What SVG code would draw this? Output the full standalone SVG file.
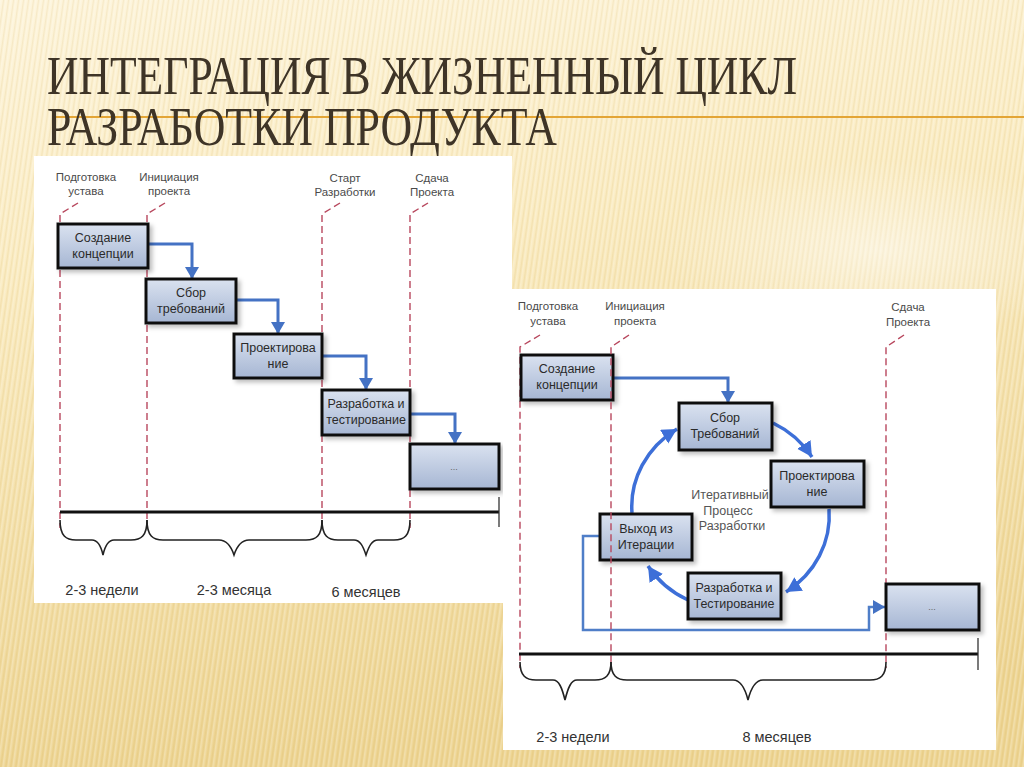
<svg xmlns="http://www.w3.org/2000/svg" width="1024" height="767" viewBox="0 0 1024 767">
<defs>
  <linearGradient id="bg" x1="0" y1="0" x2="0.15" y2="1">
    <stop offset="0" stop-color="#FDF4DA"/>
    <stop offset="0.35" stop-color="#FAEBC0"/>
    <stop offset="1" stop-color="#EDD491"/>
  </linearGradient>
  <radialGradient id="glow" cx="0.5" cy="0.5" r="0.5">
    <stop offset="0" stop-color="#FFFFFF" stop-opacity="0.5"/>
    <stop offset="1" stop-color="#FFFFFF" stop-opacity="0"/>
  </radialGradient>
  <pattern id="stripes" width="5" height="10" patternUnits="userSpaceOnUse" patternTransform="skewX(-8)">
    <rect x="0" y="0" width="1.6" height="10" fill="#FFFFFF" opacity="0.25"/>
    <rect x="3" y="0" width="1.2" height="10" fill="#C9A24E" opacity="0.12"/>
  </pattern>
  <linearGradient id="boxg" x1="0" y1="0" x2="0" y2="1">
    <stop offset="0" stop-color="#DAE2F0"/>
    <stop offset="1" stop-color="#A6B6D3"/>
  </linearGradient>
  <filter id="sh" x="-10%" y="-10%" width="130%" height="140%">
    <feDropShadow dx="3" dy="3" stdDeviation="2" flood-color="#000" flood-opacity="0.25"/>
  </filter>
  <marker id="ah" markerUnits="userSpaceOnUse" markerWidth="14" markerHeight="14" refX="12" refY="7" orient="auto">
    <path d="M0,0 L12,7 L0,14 z" fill="#4472C4"/>
  </marker>
  <marker id="ahc" markerUnits="userSpaceOnUse" markerWidth="18" markerHeight="18" refX="15" refY="8" orient="auto">
    <path d="M0,0 L15,8 L0,16 z" fill="#3D6FD8"/>
  </marker>
  <style>
    .title{font-family:"Liberation Serif","DejaVu Serif",serif;font-size:54px;fill:#3E3427}
    .lbl{font-family:"Liberation Sans",Arial,sans-serif;font-size:11.5px;fill:#4a4a4a;text-anchor:middle}
    .bt{font-family:"Liberation Sans",Arial,sans-serif;font-size:12.5px;fill:#2a2a2a;text-anchor:middle}
    .dur{font-family:"Liberation Sans",Arial,sans-serif;font-size:14.5px;fill:#333;text-anchor:middle}
    .mid{font-family:"Liberation Sans",Arial,sans-serif;font-size:12.5px;fill:#555;text-anchor:middle}
    .box{fill:url(#boxg);stroke:#111;stroke-width:3;filter:url(#sh)}
    .guide{fill:none;stroke:#B8485E;stroke-width:1.4;stroke-dasharray:7,4}
    .tl{fill:none;stroke:#111;stroke-width:3}
    .tick{fill:none;stroke:#333;stroke-width:1.3}
    .brace{fill:none;stroke:#222;stroke-width:1.6}
    .arr{fill:none;stroke:#4472C4;stroke-width:3;marker-end:url(#ah)}
    .carr{fill:none;stroke:#3D6FD8;stroke-width:3.5;marker-end:url(#ahc)}
    .exit{fill:none;stroke:#4F7EC8;stroke-width:2.5;marker-end:url(#ah)}
  </style>
</defs>

<!-- background -->
<rect x="0" y="0" width="1024" height="767" fill="url(#bg)"/>
<rect x="0" y="0" width="1024" height="767" fill="url(#stripes)"/>
<ellipse cx="880" cy="250" rx="220" ry="90" fill="url(#glow)"/>
<line x1="52" y1="117" x2="1024" y2="117" stroke="#E3A536" stroke-width="2.2"/>

<!-- title -->
<g id="title">
  <text class="title" x="47" y="94" textLength="750" lengthAdjust="spacingAndGlyphs">ИНТЕГРАЦИЯ В ЖИЗНЕННЫЙ ЦИКЛ</text>
  <text class="title" x="47" y="145" textLength="510" lengthAdjust="spacingAndGlyphs">РАЗРАБОТКИ ПРОДУКТА</text>
</g>

<!-- ================= LEFT PANEL (waterfall) ================= -->
<g id="left-panel">
  <rect x="34" y="156" width="478" height="447" fill="#FFFFFF"/>
</g>

<g id="left-milestones">
  <text class="lbl" x="86" y="181">Подготовка</text>
  <text class="lbl" x="86" y="195">устава</text>
  <text class="lbl" x="169" y="181">Инициация</text>
  <text class="lbl" x="169" y="195">проекта</text>
  <text class="lbl" x="345" y="182">Старт</text>
  <text class="lbl" x="345" y="196">Разработки</text>
  <text class="lbl" x="432" y="182">Сдача</text>
  <text class="lbl" x="432" y="196">Проекта</text>
  <path class="guide" d="M78,203 L60,214 V528"/>
  <path class="guide" d="M165,203 L147,214 V528"/>
  <path class="guide" d="M340,203 L322,214 V528"/>
  <path class="guide" d="M428,203 L410,214 V528"/>
</g>

<g id="left-connectors">
  <path class="arr" d="M148,244 H192 V279"/>
  <path class="arr" d="M236,300 H278 V334"/>
  <path class="arr" d="M322,356 H366 V390"/>
  <path class="arr" d="M410,414 H455 V444"/>
</g>

<g id="L1">
  <rect class="box" x="58" y="224" width="90" height="44"/>
  <text class="bt" x="103" y="242">Создание</text>
  <text class="bt" x="103" y="258">концепции</text>
</g>
<g id="L2">
  <rect class="box" x="146" y="279" width="90" height="44"/>
  <text class="bt" x="191" y="297">Сбор</text>
  <text class="bt" x="191" y="313">требований</text>
</g>
<g id="L3">
  <rect class="box" x="234" y="334" width="88" height="44"/>
  <text class="bt" x="278" y="352">Проектирова</text>
  <text class="bt" x="278" y="368">ние</text>
</g>
<g id="L4">
  <rect class="box" x="322" y="390" width="88" height="45"/>
  <text class="bt" x="366" y="408">Разработка и</text>
  <text class="bt" x="366" y="424">тестирование</text>
</g>
<g id="L5">
  <rect class="box" x="410" y="444" width="89" height="45"/>
  <text class="bt" x="454" y="470" style="font-size:9px;fill:#666">...</text>
</g>

<g id="left-timeline">
  <line class="tl" x1="60" y1="512" x2="499" y2="512"/>
  <line class="tick" x1="499" y1="497" x2="499" y2="527"/>
  <path class="brace" d="M60,520 C60,536 66,540 76,540 H92 C98,540 101,546 103,555 C105,546 108,540 114,540 H131 C141,540 147,536 147,520"/>
  <path class="brace" d="M147,520 C147,536 153,540 163,540 H219 C226,540 231,546 234,555 C237,546 242,540 249,540 H306 C316,540 322,536 322,520"/>
  <path class="brace" d="M322,520 C322,536 328,540 338,540 H354 C360,540 363,546 366,555 C369,546 372,540 378,540 H394 C404,540 410,536 410,520"/>
  <text class="dur" x="102" y="595">2-3 недели</text>
  <text class="dur" x="234" y="595">2-3 месяца</text>
  <text class="dur" x="366" y="597">6 месяцев</text>
</g>

<!-- ================= RIGHT PANEL (iterative) ================= -->
<g id="right-panel">
  <rect x="503" y="289" width="493" height="461" fill="#FFFFFF"/>
</g>

<g id="right-milestones">
  <text class="lbl" x="548" y="310">Подготовка</text>
  <text class="lbl" x="548" y="325">устава</text>
  <text class="lbl" x="635" y="310">Инициация</text>
  <text class="lbl" x="635" y="325">проекта</text>
  <text class="lbl" x="908" y="311">Сдача</text>
  <text class="lbl" x="908" y="326">Проекта</text>
  <path class="guide" d="M540,335 L520,347 V668"/>
  <path class="guide" d="M904,335 L886,347 V668"/>
</g>

<g id="right-connectors">
  <path class="arr" d="M613,378 H728 V403"/>
  <path class="exit" d="M600,536 H583 V630 H869 V607 H885"/>
  <path class="carr" d="M773,423 A98,92 0 0 1 812,457"/>
  <path class="carr" d="M829,509 A98,92 0 0 1 786,592"/>
  <path class="carr" d="M688,600 A98,92 0 0 1 648,566"/>
  <path class="carr" d="M632,513 A98,92 0 0 1 677,429"/>
</g>

<g id="R1">
  <rect class="box" x="521" y="355" width="92" height="45"/>
  <text class="bt" x="567" y="373">Создание</text>
  <text class="bt" x="567" y="389">концепции</text>
</g>
<g id="R2">
  <rect class="box" x="679" y="403" width="93" height="47"/>
  <text class="bt" x="725" y="422">Сбор</text>
  <text class="bt" x="725" y="438">Требований</text>
</g>
<g id="R3">
  <rect class="box" x="771" y="461" width="93" height="46"/>
  <text class="bt" x="817" y="480">Проектирова</text>
  <text class="bt" x="817" y="496">ние</text>
</g>
<g id="R4">
  <rect class="box" x="600" y="514" width="92" height="46"/>
  <text class="bt" x="646" y="533">Выход из</text>
  <text class="bt" x="646" y="549">Итерации</text>
</g>
<g id="R5">
  <rect class="box" x="688" y="573" width="93" height="46"/>
  <text class="bt" x="734" y="592">Разработка и</text>
  <text class="bt" x="734" y="608">Тестирование</text>
</g>
<g id="R6">
  <rect class="box" x="886" y="584" width="93" height="46"/>
  <text class="bt" x="932" y="610" style="font-size:9px;fill:#666">...</text>
</g>

<g id="right-guide-2">
  <path class="guide" d="M629,335 L611,347 V668"/>
</g>

<g id="cycle-label">
  <text class="mid" x="730" y="499">Итеративный</text>
  <text class="mid" x="728" y="515">Процесс</text>
  <text class="mid" x="732" y="530">Разработки</text>
</g>

<g id="right-timeline">
  <line class="tl" x1="519" y1="654" x2="978" y2="654"/>
  <line class="tick" x1="978" y1="638" x2="978" y2="670"/>
  <path class="brace" d="M520,662 C520,676 526,680 536,680 H553 C559,680 562,688 565,700 C568,688 571,680 577,680 H595 C605,680 611,676 611,662"/>
  <path class="brace" d="M611,662 C611,676 617,680 627,680 H733 C740,680 745,688 748,700 C751,688 756,680 763,680 H870 C880,680 886,676 886,662"/>
  <text class="dur" x="573" y="742">2-3 недели</text>
  <text class="dur" x="777" y="742">8 месяцев</text>
</g>
</svg>
